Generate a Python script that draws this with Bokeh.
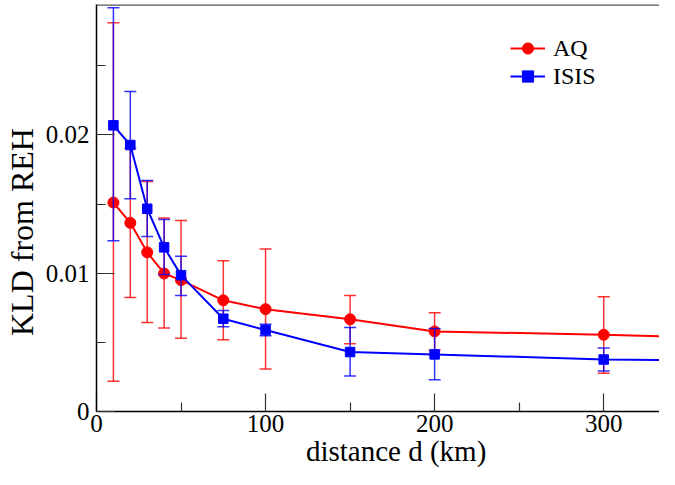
from bokeh.plotting import figure
from bokeh.models import (ColumnDataSource, Range1d, FixedTicker, Legend, LegendItem, Span)
from bokeh.embed import file_html
from bokeh.resources import INLINE

# ---- data ----
distance = [10, 20, 30, 40, 50, 75, 100, 150, 200, 300, 400]

aq_kld   = [0.01511, 0.01364, 0.01151, 0.00998, 0.00950, 0.00804, 0.00740, 0.00667, 0.00579, 0.00555, 0.00522]
aq_upper = [0.02811, 0.01903, 0.01664, 0.01400, 0.01381, 0.01090, 0.01175, 0.00839, 0.00714, 0.00830, 0.00790]
aq_lower = [0.00218, 0.00825, 0.00643, 0.00603, 0.00530, 0.00518, 0.00307, 0.00489, 0.00442, 0.00277, 0.00260]

isis_kld   = [0.02069, 0.01927, 0.01466, 0.01187, 0.00986, 0.00671, 0.00589, 0.00430, 0.00413, 0.00376, 0.00364]
isis_upper = [0.02920, 0.02314, 0.01671, 0.01388, 0.01123, 0.00730, 0.00631, 0.00608, 0.00601, 0.00459, 0.00450]
isis_lower = [0.01234, 0.01539, 0.01265, 0.00991, 0.00839, 0.00612, 0.00548, 0.00257, 0.00229, 0.00293, 0.00280]

x_major = [0, 100, 200, 300]
x_minor = [50, 150, 250]
y_major = [0, 0.01, 0.02]
y_minor = [0.005, 0.015, 0.025]

x_title = "distance d (km)"
y_title = "KLD from REH"

X_MAX = 333.0
Y_MAX = 0.02943
FONT = "Liberation Serif"
NBSP = "\u00a0"

p = figure(width=659, height=469, output_backend="svg", toolbar_location=None,
           x_range=Range1d(0, X_MAX), y_range=Range1d(0, Y_MAX),
           min_border_left=93, min_border_right=0, min_border_top=4, min_border_bottom=57)
p.grid.visible = False
p.outline_line_color = None
p.background_fill_color = "white"
p.border_fill_color = "white"

for ax, maj, mnr in ((p.xaxis[0], x_major, x_minor), (p.yaxis[0], y_major, y_minor)):
    ax.ticker = FixedTicker(ticks=maj, minor_ticks=mnr)
    ax.axis_line_color = "black"
    ax.axis_line_width = 1.5
    ax.major_tick_in = 18
    ax.major_tick_out = 0
    ax.minor_tick_in = 9
    ax.minor_tick_out = 0
    ax.major_tick_line_color = "#333333"
    ax.minor_tick_line_color = "#333333"
    ax.major_tick_line_width = 1.2
    ax.minor_tick_line_width = 1.2
    ax.major_label_text_font = FONT
    ax.major_label_text_font_size = "25px"
    ax.major_label_text_color = "black"
    ax.axis_label_text_font = FONT
    ax.axis_label_text_font_style = "normal"
    ax.axis_label_text_color = "black"

p.xaxis.major_label_standoff = 3
p.yaxis.major_label_standoff = 7
p.yaxis.major_label_overrides = {0: "0", 0.01: "0.01", 0.02: "0.02"}
p.xaxis.major_label_overrides = {0: "0", 100: "100", 200: "200", 300: "300"}

# non-breaking padding shifts the centred titles to where the reference has them
p.yaxis.axis_label = y_title + NBSP * 6
p.yaxis.axis_label_text_font_size = "32px"
p.yaxis.axis_label_standoff = 3

p.xaxis.axis_label = NBSP * 5 + x_title
p.xaxis.axis_label_text_font_size = "29px"
p.xaxis.axis_label_standoff = 0

# top frame border
p.add_layout(Span(location=Y_MAX, dimension="width", line_color="#555555", line_width=2.5))

src_aq = ColumnDataSource(dict(d=distance, v=aq_kld, lo=aq_lower, hi=aq_upper))
src_is = ColumnDataSource(dict(d=distance, v=isis_kld, lo=isis_lower, hi=isis_upper))

def draw(src, color, marker, msize):
    p.segment(x0="d", y0="lo", x1="d", y1="hi", source=src, line_color=color,
              line_width=1.5, line_alpha=0.8)
    p.scatter(x="d", y="hi", source=src, marker="dash", size=12, line_color=color,
              line_width=1.5, line_alpha=0.8)
    p.scatter(x="d", y="lo", source=src, marker="dash", size=12, line_color=color,
              line_width=1.5, line_alpha=0.8)
    ln = p.line(x="d", y="v", source=src, line_color=color, line_width=2)
    sc = p.scatter(x="d", y="v", source=src, marker=marker, size=msize,
                   fill_color=color, line_color=color)
    return ln, sc

aq_line, aq_pts = draw(src_aq, "#ff0000", "circle", 11)
is_line, is_pts = draw(src_is, "#0000ff", "square", 9.5)

legend = Legend(items=[LegendItem(label="AQ", renderers=[aq_line, aq_pts]),
                       LegendItem(label="ISIS", renderers=[is_line, is_pts])],
                location=(414, 321), orientation="vertical",
                label_text_font=FONT, label_text_font_size="24px",
                label_text_color="black", glyph_width=35, glyph_height=28,
                label_height=28, label_standoff=8, spacing=0, padding=0, margin=0,
                border_line_color=None, background_fill_alpha=0)
p.add_layout(legend)

open("out.html", "w").write(file_html(p, INLINE))
